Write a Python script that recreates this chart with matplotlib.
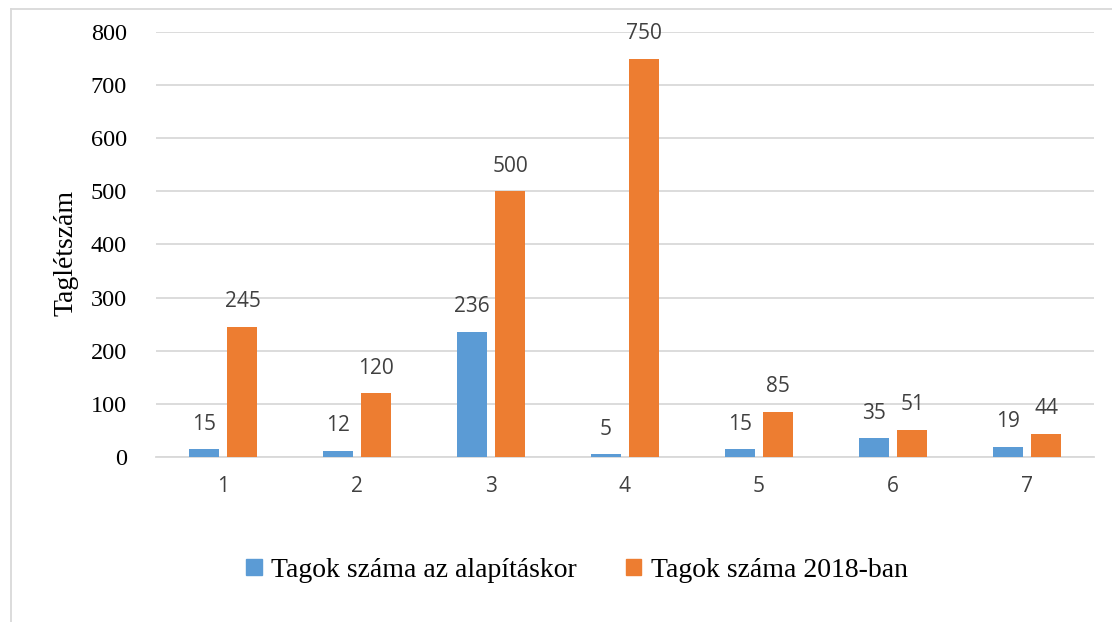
import numpy as np
import matplotlib.pyplot as plt
from matplotlib.lines import Line2D

# ── Data ──────────────────────────────────────────────────────────────────────
categories = ["1", "2", "3", "4", "5", "6", "7"]
alapitaskor = [15, 12, 236, 5, 15, 35, 19]
ev_2018 = [245, 120, 500, 750, 85, 51, 44]
series_names = ["Tagok száma az alapításkor", "Tagok száma 2018-ban"]

BLUE = "#5b9bd5"
ORANGE = "#ed7d31"
GRID = "#d9d9d9"
LABEL = "#404040"

fig = plt.figure(figsize=(11.12, 6.22), dpi=100)
ax = fig.add_axes([0.1403, 0.2653, 0.8435, 0.6833])

x = np.arange(len(categories))
w = 0.224
off = 0.145
bars1 = ax.bar(x - off, alapitaskor, w, color=BLUE, zorder=3)
bars2 = ax.bar(x + off, ev_2018, w, color=ORANGE, zorder=3)

# value labels above each bar
for bars, vals in [(bars1, alapitaskor), (bars2, ev_2018)]:
    for b, v in zip(bars, vals):
        ax.annotate(str(v), (b.get_x() + b.get_width() / 2, v),
                    xytext=(0, 18), textcoords="offset points",
                    ha="center", va="center", fontsize=15,
                    family="Open Sans", color=LABEL)

ax.set_xlim(-0.5, len(categories) - 0.5)
ax.set_ylim(0, 800)
ax.set_yticks(range(0, 801, 100))
ax.set_xticks(x)
ax.set_xticklabels(categories, family="Open Sans", fontsize=15, color=LABEL)
for t in ax.get_yticklabels():
    t.set_family("Liberation Serif")
    t.set_fontsize(17.5)
ax.tick_params(axis="y", length=0, pad=21)
ax.tick_params(axis="x", length=0, pad=14)
ax.grid(axis="y", color=GRID, lw=1.3, zorder=0)
for s in ["top", "right", "left"]:
    ax.spines[s].set_visible(False)
ax.spines["bottom"].set_color(GRID)
ax.spines["bottom"].set_linewidth(1.3)

fig.text(0.059, 0.594, "Taglétszám", rotation=90, ha="center", va="center",
         family="Liberation Serif", fontsize=20)

handles = [plt.Rectangle((0, 0), 1, 1, color=BLUE),
           plt.Rectangle((0, 0), 1, 1, color=ORANGE)]
fig.legend(handles, series_names, loc="center", bbox_to_anchor=(0.519, 0.083),
           ncol=2, frameon=False, prop={"family": "Liberation Serif", "size": 20},
           handlelength=0.55, handleheight=0.55, handletextpad=0.35, columnspacing=1.75)

# partial chart frame (left and top edges)
fig.add_artist(Line2D([0.0095, 0.0095], [0, 0.985], color=GRID, lw=1.3))
fig.add_artist(Line2D([0.0095, 1.0], [0.985, 0.985], color=GRID, lw=1.3))

fig.savefig("out.png", dpi=100)
